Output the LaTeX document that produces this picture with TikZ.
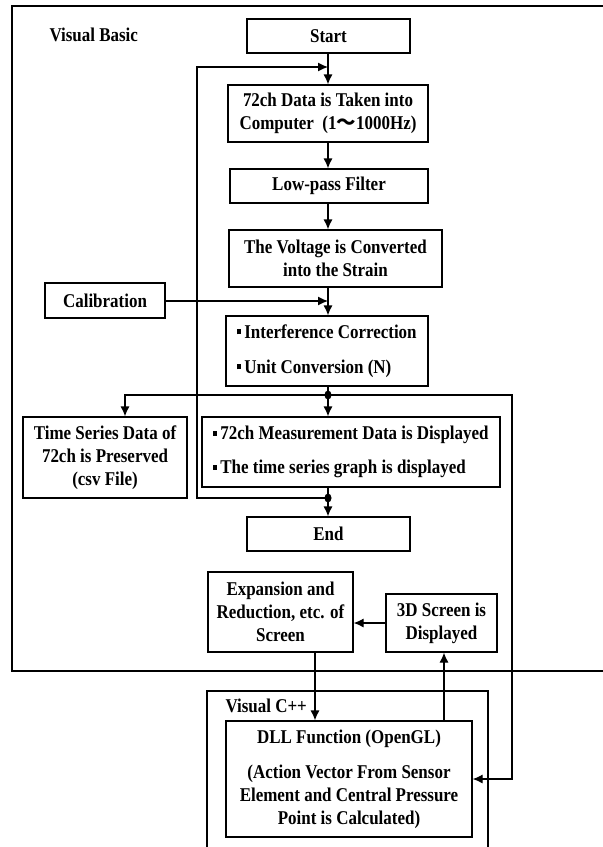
\documentclass[tikz,border=0pt]{standalone}
\usepackage{fontspec}
\setmainfont{Liberation Serif}[FakeStretch=0.87]
\newfontfamily\cjkf{Noto Sans CJK SC}
\usetikzlibrary{arrows.meta}
\newcommand\bul{\rule[4pt]{4pt}{5pt}\hspace{3pt}}
\tikzset{
  box/.style={draw,line width=1.2pt,inner sep=0pt,align=center,fill=white},
  arr/.style={line width=1.2pt,-{Latex[length=10pt,width=9pt]}},
  ln/.style={line width=1.2pt},
  every node/.style={font=\bfseries\fontsize{19.5}{23}\selectfont}
}
\begin{document}
\begin{tikzpicture}[x=1pt,y=-1pt]
\useasboundingbox (0,0) rectangle (603,847);
\clip (0,0) rectangle (603,847);
% frames
\draw[ln] (620,6) -- (12,6) -- (12,671) -- (620,671);
\draw[ln] (207,860) -- (207,691) -- (488,691) -- (488,860);
\node[anchor=west] (vb) at (46,35) {Visual Basic};
\node[anchor=west] (vc) at (222,706) {Visual C++};
% boxes
\node[box,minimum width=163,minimum height=34] (start) at (328.5,36) {Start};
\node[box,minimum width=200,minimum height=57] (take) at (328,113.5) {72ch Data is Taken into\\Computer\ \ (1{\cjkf ～}1000Hz)};
\node[box,minimum width=198,minimum height=34] (low) at (329,186) {Low-pass Filter};
\node[box,minimum width=213,minimum height=57] (volt) at (335.5,258.5) {The Voltage is Converted\\into the Strain};
\node[box,minimum width=120,minimum height=35] (cal) at (105,300.5) {Calibration};
\node[box,minimum width=202,minimum height=70,align=left] (intf) at (327,351) {\bul Interference Correction\\[12pt]\bul Unit Conversion (N)};
\node[box,minimum width=164,minimum height=81] (ts) at (105,457.5) {Time Series Data of\\72ch is Preserved\\(csv File)};
\node[box,minimum width=298,minimum height=70,align=left] (meas) at (351,452) {\bul 72ch Measurement Data is Displayed\\[11pt]\bul The time series graph is displayed};
\node[box,minimum width=163,minimum height=34] (end) at (328.5,534) {End};
\node[box,minimum width=145,minimum height=80] (exp) at (280.5,612) {Expansion and\\Reduction, etc. of\\Screen};
\node[box,minimum width=111,minimum height=58] (scr) at (441.5,623) {3D Screen is\\Displayed};
\node[box,minimum width=246,minimum height=116] (dll) at (349,779) {DLL Function (OpenGL)\\[12pt](Action Vector From Sensor\\Element and Central Pressure\\Point is Calculated)};
% coordinates
\coordinate (sp) at (328,0);
\coordinate (loopin) at (328,67);
\coordinate (loopc) at (197,67);
\coordinate (calin) at (328,301);
\coordinate (j1) at (328,395);
\coordinate (j2) at (328,498);
\coordinate (tsc) at (125,395);
\coordinate (rc) at (512,395);
\coordinate (xa) at (315,0);
\coordinate (xb) at (444,0);
% connectors
\draw[arr] (start.south -| sp) -- (take.north -| sp);
\draw[arr] (take.south -| sp) -- (low.north -| sp);
\draw[arr] (low.south -| sp) -- (volt.north -| sp);
\draw[arr] (volt.south -| sp) -- (intf.north -| sp);
\draw[arr] (cal.east |- calin) -- (calin);
\draw[arr] (intf.south -| sp) -- (meas.north -| sp);
\draw[arr] (meas.south -| sp) -- (end.north -| sp);
\draw[arr] (j2) -| (loopc) -- (loopin);
\draw[arr] (j1) -- (tsc) -- (ts.north -| tsc);
\draw[arr] (j1) -- (rc) |- (dll.east);
\draw[arr] (scr.west) -- (exp.east |- scr.west);
\draw[arr] (exp.south -| xa) -- (dll.north -| xa);
\draw[arr] (dll.north -| xb) -- (scr.south -| xb);
\fill (j1) ellipse [x radius=3.5,y radius=4.5];
\fill (j2) ellipse [x radius=3.5,y radius=4.5];
\end{tikzpicture}
\end{document}
